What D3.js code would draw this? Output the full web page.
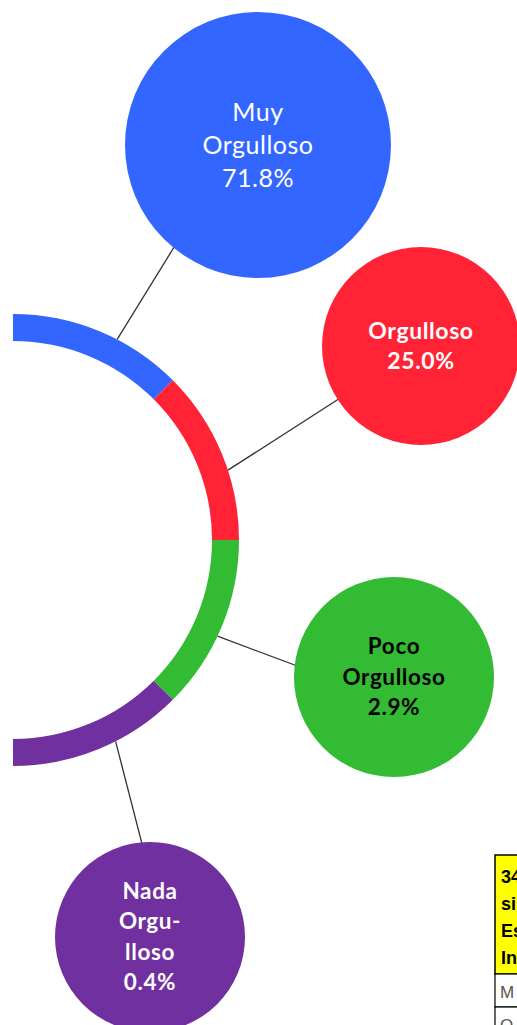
<!DOCTYPE html>
<html>
<head>
<meta charset="utf-8">
<script src="https://cdn.jsdelivr.net/npm/d3@7"></script>
<style>
  html, body { margin: 0; padding: 0; background: #fff; overflow: hidden; }
  svg { display: block; }
</style>
</head>
<body>
<svg id="chart" width="517" height="1025"></svg>
<script>
// Pride levels and their shares
const categories = ["Muy Orgulloso", "Orgulloso", "Poco Orgulloso", "Nada Orgulloso"];
const percentages = [71.8, 25.0, 2.9, 0.4];
const labelLines = [["Muy", "Orgulloso"], ["Orgulloso"], ["Poco", "Orgulloso"], ["Nada", "Orgu-", "lloso"]];
const colors = ["#3366ff", "#ff2335", "#33bb33", "#7030a0"];
const labelColors = ["#ffffff", "#ffffff", "#000000", "#ffffff"];

// Partial table at the lower right
const tableHeaderLines = ["34", "si", "Es", "In"];
const tableRows = ["M", "O"];

const W = 517, H = 1025;
const svg = d3.select("#chart");

// Half ring geometry
const ring = { cx: 13, cy: 540, inner: 199, outer: 226 };
const angle = d3.scaleBand().domain(categories).range([0, Math.PI]).padding(0);

// Bubble layout: centre, radius, leader anchor (fraction across the band),
// leader aim offset from the centre, text metrics
const bubbles = [
  { x: 258, y: 145, r: 133, anchor: 0.61, aim: [-21, 0], size: 25, weight: 400, spacing: 0.5, step: 33 },
  { x: 421, y: 346, r: 99,  anchor: 0.60, aim: [0, 0],   size: 23, weight: 700, spacing: 0.6, step: 30 },
  { x: 394, y: 677, r: 100, anchor: 0.56, aim: [0, 25],  size: 22.5, weight: 700, spacing: 0.6, step: 30.5 },
  { x: 150, y: 937, r: 95,  anchor: 0.40, aim: [16, 0],  size: 22.5, weight: 700, spacing: 0.6, step: 30.5 }
];

const pct = v => d3.format(".1f")(v) + "%";
const arc = d3.arc().innerRadius(ring.inner).outerRadius(ring.outer);

const rows = categories.map((c, i) => ({
  category: c,
  value: percentages[i],
  lines: labelLines[i].concat([pct(percentages[i])]),
  color: colors[i],
  textColor: labelColors[i],
  start: angle(c),
  end: angle(c) + angle.bandwidth(),
  b: bubbles[i]
}));

const g = svg.append("g");

// Leader lines (drawn first so bubbles sit on top)
g.selectAll("line.leader")
  .data(rows)
  .join("line")
  .attr("class", "leader")
  .each(function (d) {
    const a = d.start + d.b.anchor * (d.end - d.start);
    const x1 = ring.cx + ring.outer * Math.sin(a);
    const y1 = ring.cy - ring.outer * Math.cos(a);
    d3.select(this)
      .attr("x1", x1).attr("y1", y1)
      .attr("x2", d.b.x + d.b.aim[0]).attr("y2", d.b.y + d.b.aim[1]);
  })
  .attr("stroke", "#333")
  .attr("stroke-width", 1.3);

// Ring segments
g.append("g")
  .attr("transform", `translate(${ring.cx},${ring.cy})`)
  .selectAll("path")
  .data(rows)
  .join("path")
  .attr("d", d => arc({ startAngle: d.start, endAngle: d.end }))
  .attr("fill", d => d.color);

// Bubbles
const bub = g.selectAll("g.bubble")
  .data(rows)
  .join("g")
  .attr("class", "bubble")
  .attr("transform", d => `translate(${d.b.x},${d.b.y})`);

bub.append("circle")
  .attr("r", d => d.b.r)
  .attr("fill", d => d.color);

bub.append("text")
  .attr("text-anchor", "middle")
  .attr("font-family", "Lato, 'Open Sans', sans-serif")
  .attr("font-size", d => d.b.size)
  .attr("font-weight", d => d.b.weight)
  .attr("letter-spacing", d => d.b.spacing)
  .attr("fill", d => d.textColor)
  .each(function (d) {
    const n = d.lines.length;
    const cap = 0.68 * d.b.size;
    const first = -((n - 1) * d.b.step) / 2 + cap / 2;
    d3.select(this).selectAll("tspan")
      .data(d.lines)
      .join("tspan")
      .attr("x", 0)
      .attr("y", (t, j) => first + j * d.b.step)
      .text(t => t);
  });

// Table fragment
const tbl = svg.append("g").attr("transform", "translate(495,855)");
const headH = 119, rowH = 33, tblW = 200;
tbl.append("rect")
  .attr("x", 0).attr("y", 0).attr("width", tblW).attr("height", headH)
  .attr("fill", "#ffff00").attr("stroke", "#000").attr("stroke-width", 1.5);
tbl.append("text")
  .attr("font-family", "Arial, 'Liberation Sans', sans-serif")
  .attr("font-size", 18).attr("font-weight", 700).attr("fill", "#000")
  .selectAll("tspan")
  .data(tableHeaderLines)
  .join("tspan")
  .attr("x", 6)
  .attr("y", (t, i) => 28 + i * 27)
  .text(t => t);

tbl.selectAll("g.row")
  .data(tableRows)
  .join("g")
  .attr("class", "row")
  .attr("transform", (t, i) => `translate(0,${headH + i * rowH})`)
  .each(function (t) {
    const r = d3.select(this);
    r.append("rect")
      .attr("width", tblW).attr("height", rowH)
      .attr("fill", "#fff").attr("stroke", "#000").attr("stroke-width", 1.2);
    r.append("text")
      .attr("x", 5).attr("y", 24)
      .attr("font-family", "Arial, 'Liberation Sans', sans-serif")
      .attr("font-size", 17).attr("fill", "#555")
      .text(t);
  });
</script>
</body>
</html>
